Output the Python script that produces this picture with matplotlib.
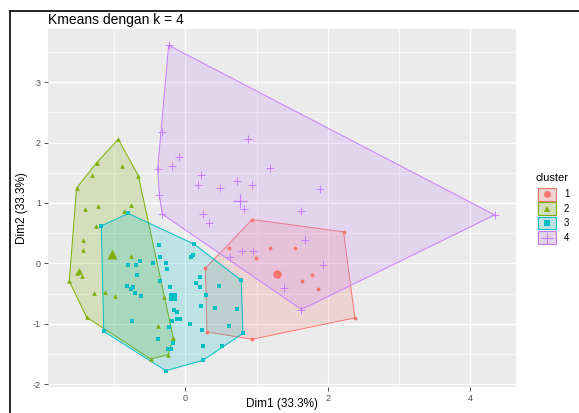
import numpy as np
import matplotlib.pyplot as plt
from matplotlib.patches import Polygon, Rectangle
from matplotlib.lines import Line2D
from matplotlib.colors import to_rgba

plt.rcParams['font.family'] = ['Liberation Sans', 'DejaVu Sans']
plt.rcParams['axes.unicode_minus'] = False

# cluster labels, colours and marker shapes (ggplot default palette)
clusters = ['1', '2', '3', '4']
colors = ['#F8766D', '#7CAE00', '#00BFC4', '#C77CFF']
markers = ['o', '^', 's', '+']

# points (Dim1, Dim2)
c1_x = [0.937, 2.219, 0.618, 1.190, 1.541, 0.987, 1.779, 1.639, 1.858, 0.281, 0.302, 0.937, 2.378]
c1_y = [0.726, 0.522, 0.252, 0.249, 0.249, 0.086, -0.196, -0.299, -0.425, -0.080, -1.135, -1.256, -0.902]

c2_x = [-0.941, -1.246, -0.885, -1.316, -0.660, -1.527, -1.404, -1.226, -0.763, -0.861,
        -1.260, -1.442, -1.433, -0.763, -1.499, -1.479, -1.517, -1.451, -1.629, -1.282,
        -1.133, -0.987, -0.305, -1.386, -0.389, -0.169, -0.243, -0.487]
c2_y = [2.055, 1.666, 1.606, 1.467, 1.450, 1.246, 0.897, 0.947, 0.968, 0.875,
        0.615, 0.387, 0.228, 0.121, -0.116, -0.138, -0.154, -0.211, -0.294, -0.487,
        -0.477, -0.543, -0.560, -0.892, -1.035, -1.234, -1.512, -1.583]

c3_x = [-1.180, -0.801, 0.126, -0.375, -0.355, -0.271, -0.449, 0.103, 0.084, -0.263,
        -0.805, -0.691, -0.636, -0.684, 0.206, -0.351, 0.150, 0.208, 0.478, 0.784,
        -0.815, -0.758, -0.728, -0.702, -0.628, -0.218, 0.291, 0.218, 0.419, 0.720,
        -0.154, -0.122, -0.187, -0.112, -0.070, 0.070, 0.618, 0.235, -0.749, -0.225,
        0.808, -1.145, -0.389, -0.178, 0.246, 0.510, -0.250, -0.204, 0.243, -0.274]
c3_y = [0.620, 0.826, 0.316, 0.311, 0.105, 0.012, 0.012, 0.138, 0.108, -0.095,
        -0.025, -0.022, 0.037, -0.188, -0.221, -0.299, -0.329, -0.394, -0.377, -0.282,
        -0.377, -0.424, -0.399, -0.493, -0.543, -0.394, -0.527, -0.711, -0.736, -0.748,
        -0.777, -0.811, -0.952, -0.927, -0.919, -1.005, -1.043, -1.096, -0.958, -1.055,
        -1.159, -1.126, -1.249, -1.317, -1.374, -1.374, -1.424, -1.417, -1.606, -1.777]

c4_x = [-0.235, -0.327, 0.875, -0.094, -0.187, -0.389, 1.190, 0.221, 0.183, 0.720,
        0.941, 0.487, 1.892, -0.365, 0.829, 0.246, -0.323, 1.629, 0.330, 1.676,
        0.794, 0.955, 0.625, 1.928, 1.390, 1.629, 4.340]
c4_y = [3.610, 2.171, 2.055, 1.761, 1.611, 1.561, 1.573, 1.462, 1.304, 1.362,
        1.296, 1.254, 1.229, 1.125, 0.905, 0.814, 0.814, 0.869, 0.676, 0.387,
        0.199, 0.199, 0.100, -0.028, -0.407, -0.764, 0.802]

# cluster centres (drawn bigger)
centers_x = [1.288, -1.035, -0.176, 0.772]
centers_y = [-0.176, 0.154, -0.561, 1.030]

xs = [c1_x, c2_x, c3_x, c4_x]
ys = [c1_y, c2_y, c3_y, c4_y]


def convex_hull(x, y):
    # monotone chain
    pts = sorted(set(zip(x, y)))

    def cross(o, a, b):
        return (a[0] - o[0]) * (b[1] - o[1]) - (a[1] - o[1]) * (b[0] - o[0])

    lower, upper = [], []
    for p in pts:
        while len(lower) >= 2 and cross(lower[-2], lower[-1], p) <= 0:
            lower.pop()
        lower.append(p)
    for p in reversed(pts):
        while len(upper) >= 2 and cross(upper[-2], upper[-1], p) <= 0:
            upper.pop()
        upper.append(p)
    return np.array(lower[:-1] + upper[:-1])


W, H = 579, 413
fig = plt.figure(figsize=(W / 100, H / 100), dpi=100)


def fx(px):
    return px / W


def fy(py):
    return 1 - py / H


ax = fig.add_axes([fx(48), fy(387), fx(516) - fx(48), fy(29) - fy(387)])
ax.set_facecolor('#EBEBEB')

pt_size = [8, 11, 8, 26]
big_size = [36, 50, 36, 100]

for i in range(4):
    hull = convex_hull(xs[i], ys[i])
    ax.add_patch(Polygon(hull, closed=True, facecolor=to_rgba(colors[i], 0.2),
                         edgecolor=colors[i], linewidth=0.7, zorder=2))

for i in range(4):
    lw = 0.7 if markers[i] == '+' else 0
    ax.scatter(xs[i], ys[i], marker=markers[i], s=pt_size[i], color=colors[i],
               linewidths=lw, zorder=3)
    ax.scatter(centers_x[i], centers_y[i], marker=markers[i], s=big_size[i],
               color=colors[i], linewidths=lw * 1.2, zorder=3)

# ggplot-like 5% expansion of the data range
all_x = np.concatenate([np.array(v) for v in xs])
all_y = np.concatenate([np.array(v) for v in ys])
rx = all_x.max() - all_x.min()
ry = all_y.max() - all_y.min()
ax.set_xlim(all_x.min() - 0.05 * rx, all_x.max() + 0.05 * rx)
ax.set_ylim(all_y.min() - 0.05 * ry, all_y.max() + 0.05 * ry)

ax.set_xticks([0, 2, 4])
ax.set_xticks([-1, 1, 3], minor=True)
ax.set_yticks([-2, -1, 0, 1, 2, 3])
ax.set_yticks([-1.5, -0.5, 0.5, 1.5, 2.5, 3.5], minor=True)
ax.grid(which='major', color='white', linewidth=1.0)
ax.grid(which='minor', color='white', linewidth=0.5)
ax.set_axisbelow(True)
for s in ax.spines.values():
    s.set_visible(False)
ax.tick_params(which='major', length=3, width=0.6, color='#333333',
               labelsize=6.5, labelcolor='#4D4D4D', pad=2)
ax.tick_params(which='minor', length=0)

fig.text(fx(282), fy(404), 'Dim1 (33.3%)', fontsize=8.5, ha='center', va='center')
fig.text(fx(22), fy(208), 'Dim2 (33.3%)', fontsize=8.5, ha='center', va='center', rotation=90)
fig.text(fx(48), fy(20), 'Kmeans dengan k = 4', fontsize=10, ha='left', va='center')

# legend drawn by hand, ggplot style
fig.text(fx(536), fy(178), 'cluster', fontsize=8, ha='left', va='center')
key_top = 187.5
key_h = 14.4
for i in range(4):
    y0 = key_top + key_h * i
    fig.add_artist(Rectangle((fx(537), fy(y0 + 13.5)), fx(556) - fx(537), fy(y0) - fy(y0 + 13.5),
                             transform=fig.transFigure, facecolor='#EBEBEB', edgecolor='none'))
    fig.add_artist(Rectangle((fx(537.5), fy(y0 + 13)), fx(556) - fx(537.5), fy(y0 + 0.5) - fy(y0 + 13),
                             transform=fig.transFigure, facecolor=to_rgba(colors[i], 0.2),
                             edgecolor=colors[i], linewidth=0.8))
    ms = 9 if markers[i] == '+' else 5
    fig.add_artist(Line2D([fx(546.5)], [fy(y0 + 6.8)], transform=fig.transFigure,
                          marker=markers[i], markersize=ms, color=colors[i],
                          markeredgewidth=0.8 if markers[i] == '+' else 0))
    fig.text(fx(564), fy(y0 + 7), clusters[i], fontsize=7, ha='left', va='center')

# black frame of the screenshot
fig.add_artist(Line2D([fx(10), fx(10)], [fy(11), 0], transform=fig.transFigure, color='black', lw=1.2))
fig.add_artist(Line2D([fx(10), 1], [fy(11), fy(11)], transform=fig.transFigure, color='black', lw=1.2))

fig.savefig('out.png', dpi=100)
